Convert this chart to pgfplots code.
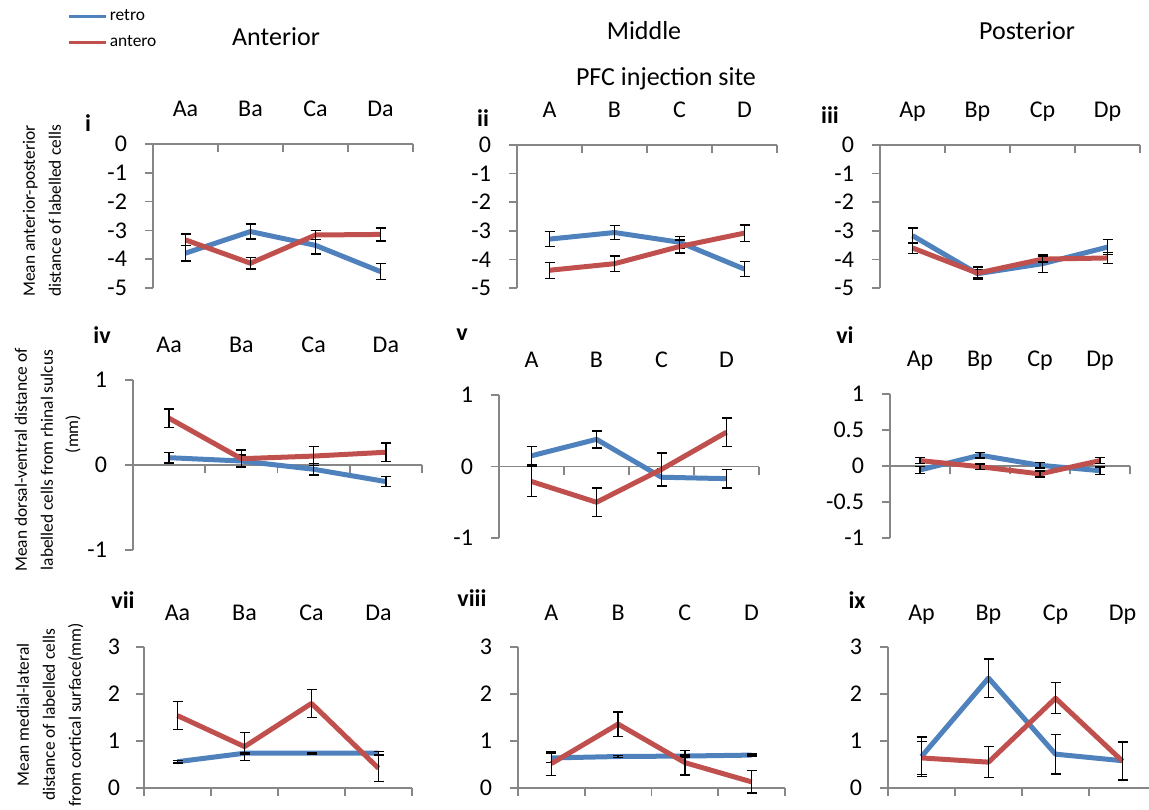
\documentclass[border=0pt]{standalone}
\usepackage{pgfplots}
\pgfplotsset{compat=1.18}
\usepackage{pgfplotstable}
\usepackage{fontspec}
\setmainfont{Carlito}
\definecolor{cRetro}{HTML}{4F81BD}
\definecolor{cAntero}{HTML}{C0504D}
\definecolor{axgray}{HTML}{868686}

\pgfplotstableread{
x r re a ae
1 -3.79 0.27 -3.33 0.20
2 -3.04 0.26 -4.14 0.20
3 -3.52 0.30 -3.16 0.15
4 -4.43 0.28 -3.14 0.23
}\ti
\pgfplotstableread{
x r re a ae
1 -3.29 0.26 -4.38 0.28
2 -3.06 0.24 -4.15 0.27
3 -3.40 0.20 -3.55 0.22
4 -4.34 0.26 -3.08 0.29
}\tii
\pgfplotstableread{
x r re a ae
1 -3.17 0.26 -3.60 0.19
2 -4.50 0.15 -4.48 0.22
3 -4.15 0.30 -3.99 0.10
4 -3.57 0.26 -3.95 0.19
}\tiii
\pgfplotstableread{
x r re a ae
1 0.086 0.06 0.55 0.11
2 0.047 0.07 0.074 0.10
3 -0.05 0.07 0.105 0.11
4 -0.195 0.06 0.15 0.11
}\tiv
\pgfplotstableread{
x r re a ae
1 0.15 0.13 -0.21 0.21
2 0.38 0.12 -0.50 0.20
3 -0.15 0.12 -0.04 0.23
4 -0.17 0.13 0.48 0.20
}\tv
\pgfplotstableread{
x r re a ae
1 -0.055 0.05 0.075 0.04
2 0.15 0.04 -0.01 0.04
3 0.01 0.04 -0.11 0.04
4 -0.065 0.05 0.075 0.04
}\tvi
\pgfplotstableread{
x r re a ae
1 0.56 0.03 1.54 0.30
2 0.74 0.02 0.88 0.30
3 0.74 0.02 1.80 0.30
4 0.74 0.04 0.42 0.28
}\tvii
\pgfplotstableread{
x r re a ae
1 0.64 0.10 0.52 0.25
2 0.67 0.02 1.36 0.26
3 0.68 0.02 0.54 0.26
4 0.70 0.02 0.13 0.24
}\tviii
\pgfplotstableread{
x r re a ae
1 0.67 0.42 0.64 0.35
2 2.34 0.41 0.55 0.33
3 0.72 0.42 1.91 0.33
4 0.58 0.40 0.57 0.40
}\tix

\pgfplotsset{
  panel/.style={
    scale only axis, anchor=south west,
    xmin=0.5, xmax=4.5,
    axis x line=middle, axis y line=left,
    axis line style={axgray, line width=0.8pt, -},
    xtick={0.5,1.5,2.5,3.5,4.5}, xticklabels={},
    major tick length=4pt,
    xtick align=outside, ytick align=outside,
    tick style={axgray, line width=0.8pt},
    hide obscured x ticks=false,
    hide obscured y ticks=false,
    yticklabel style={font=\fontsize{12}{14}\selectfont, xshift=-5.5pt},
    clip=false,
    error bars/y dir=both, error bars/y explicit,
    error bars/error bar style={black, line width=0.75pt},
    error bars/error mark options={black, rotate=90, mark size=2.5pt, line width=0.75pt},
  },
  ap/.style={ymin=-5, ymax=0, ytick={-5,-4,-3,-2,-1,0}, yticklabels={-5,-4,-3,-2,-1,0},
    axis x line=none},
  dv/.style={ymin=-1, ymax=1, ytick={-1,0,1}, yticklabels={-1,0,1}},
  ml/.style={ymin=0, ymax=3, ytick={0,1,2,3}, yticklabels={0,1,2,3}},
  rl/.style={color=cRetro, line width=2.5pt, line join=round, no markers},
  al/.style={color=cAntero, line width=2.5pt, line join=round, no markers},
}
\tikzset{catf/.style={font=\fontsize{12}{14}\selectfont, anchor=base, yshift=13.5pt},
  topax/.style={axgray, line width=0.8pt}}
\newcommand{\cats}[4]{%
  \node[catf] at (rel axis cs:0.125,1) {#1};
  \node[catf] at (rel axis cs:0.375,1) {#2};
  \node[catf] at (rel axis cs:0.625,1) {#3};
  \node[catf] at (rel axis cs:0.875,1) {#4};}
\newcommand{\topaxis}{%
  \draw[topax] (rel axis cs:0,1) -- (rel axis cs:1,1);
  \draw[topax] (rel axis cs:0,1) -- ++(0pt,-4pt);
  \draw[topax] (rel axis cs:0.25,1) -- ++(0pt,-4pt);
  \draw[topax] (rel axis cs:0.5,1) -- ++(0pt,-4pt);
  \draw[topax] (rel axis cs:0.75,1) -- ++(0pt,-4pt);
  \draw[topax] (rel axis cs:1,1) -- ++(0pt,-4pt);}
\newcommand{\both}[1]{%
  \addplot[rl] table[x=x, y=r, y error=re] {#1};
  \addplot[al] table[x=x, y=a, y error=ae] {#1};}

\begin{document}
\begin{tikzpicture}
\useasboundingbox (0,0) rectangle (574.5pt,404.5pt);

% Row 1
\begin{axis}[panel, ap, at={(76.5pt,260.5pt)}, width=130pt, height=72pt,
  legend style={draw=none, fill=none, at={(axis description cs:-0.33,1.95)}, anchor=north west,
    font=\fontsize{8.7}{10}\selectfont, row sep=4pt, inner sep=0pt, nodes={inner sep=1pt, anchor=west}},
  legend cell align=left,
  legend image code/.code={\draw[#1, line width=1.6pt] (0pt,0pt) -- (18.5pt,0pt);}]
  \topaxis
  \addplot[rl] table[x=x, y=r, y error=re] {\ti};
  \addlegendentry{retro}
  \addplot[al] table[x=x, y=a, y error=ae] {\ti};
  \addlegendentry{antero}
  \cats{Aa}{Ba}{Ca}{Da}
\end{axis}
\begin{axis}[panel, ap, at={(258.5pt,260.5pt)}, width=130pt, height=71.5pt]
  \topaxis
  \both{\tii}
  \cats{A}{B}{C}{D}
\end{axis}
\begin{axis}[panel, ap, at={(440pt,260.5pt)}, width=130pt, height=71.5pt]
  \topaxis
  \both{\tiii}
  \cats{Ap}{Bp}{Cp}{Dp}
\end{axis}

% Row 2
\begin{axis}[panel, dv, at={(66.5pt,129.5pt)}, width=144.5pt, height=85pt]
  \both{\tiv}
  \cats{Aa}{Ba}{Ca}{Da}
\end{axis}
\begin{axis}[panel, dv, at={(249.5pt,135.5pt)}, width=130pt, height=71.5pt]
  \both{\tv}
  \cats{A}{B}{C}{D}
\end{axis}
\begin{axis}[panel, at={(445pt,135.5pt)}, width=120pt, height=72pt,
  ymin=-1, ymax=1, ytick={-1,-0.5,0,0.5,1}, yticklabels={-1,-0.5,0,0.5,1}]
  \both{\tvi}
  \cats{Ap}{Bp}{Cp}{Dp}
\end{axis}

% Row 3
\begin{axis}[panel, ml, at={(72pt,10.5pt)}, width=134pt, height=70.5pt,
  yticklabel style={xshift=1pt}]
  \both{\tvii}
  \cats{Aa}{Ba}{Ca}{Da}
\end{axis}
\begin{axis}[panel, ml, at={(259pt,10.5pt)}, width=133.5pt, height=70.5pt]
  \both{\tviii}
  \cats{A}{B}{C}{D}
\end{axis}
\begin{axis}[panel, ml, at={(444pt,10.5pt)}, width=134pt, height=70.5pt]
  \both{\tix}
  \cats{Ap}{Bp}{Cp}{Dp}
\end{axis}

% Titles
\begin{scope}[every node/.style={font=\fontsize{13}{15}\selectfont}]
\node at (138pt,386pt) {Anterior};
\node at (322pt,389pt) {Middle};
\node at (513.5pt,389pt) {Posterior};
\node at (333pt,365pt) {PFC injection site};
\end{scope}

% Panel labels
\begin{scope}[every node/.style={font=\fontsize{12}{14}\selectfont\bfseries}]
\node at (44pt,343pt) {i};
\node at (241.5pt,345.5pt) {ii};
\node at (415pt,347pt) {iii};
\node at (51pt,237pt) {iv};
\node at (231pt,237pt) {v};
\node at (422.5pt,237pt) {vi};
\node at (61.5pt,104.5pt) {vii};
\node at (236pt,105.5pt) {viii};
\node at (428.5pt,104.5pt) {ix};
\end{scope}

% Y axis descriptions
\begin{scope}[every node/.style={font=\fontsize{8.7}{13}\selectfont, rotate=90, align=center}]
\node at (21pt,299pt) {Mean anterior-posterior\\distance of labelled cells};
\node at (17pt,174.5pt) {Mean dorsal-ventral distance of\\labelled cells from rhinal sulcus};
\node at (36.5pt,187.5pt) {(mm)};
\node at (25pt,47pt) {Mean medial-lateral\\distance of labelled cells\\from cortical surface(mm)};
\end{scope}
\end{tikzpicture}
\end{document}
